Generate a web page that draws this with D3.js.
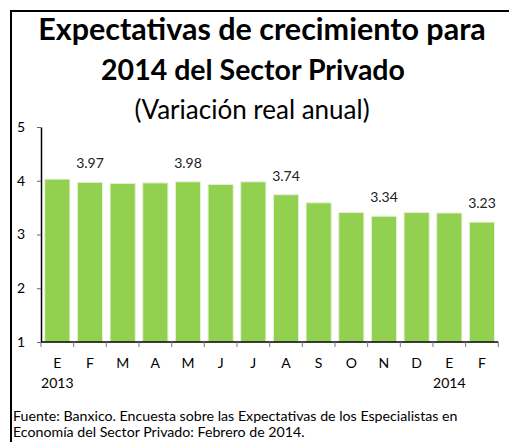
<!DOCTYPE html>
<html><head>
<meta charset="utf-8">
<title>Expectativas de crecimiento 2014</title>
<script src="https://d3js.org/d3.v7.min.js"></script>
<style>
  body { margin: 0; background: #fff; }
  svg text { font-family: Lato, "Open Sans", sans-serif; fill: #000; }
  .title { font-weight: bold; }
  .subtitle { font-size: 26px; }
  .axis text { font-size: 14px; }
  .label { font-size: 14px; fill: #222; }
  .note { font-size: 14.2px; }
</style>
</head>
<body>
<svg id="chart" width="509" height="442"></svg>
<script>
  // data
  let months = ["E", "F", "M", "A", "M", "J", "J", "A", "S", "O", "N", "D", "E", "F"];
  let years = ["2013", "", "", "", "", "", "", "", "", "", "", "", "2014", ""];
  let values = [4.03, 3.97, 3.95, 3.96, 3.98, 3.93, 3.98, 3.74, 3.59, 3.41, 3.34, 3.41, 3.40, 3.23];
  let labelled = [1, 4, 7, 10, 13];   // bars that carry their value
  let yTicks = [1, 2, 3, 4, 5];

  let svg = d3.select("svg#chart");

  // frame (open on right / bottom, cut off in the original)
  svg.append("path")
    .attr("d", "M11,442 L11,11 L509,11")
    .attr("fill", "none")
    .attr("stroke", "#000")
    .attr("stroke-width", 2);

  // titles
  svg.append("text").attr("class", "title").attr("x", 262).attr("y", 40)
    .attr("text-anchor", "middle").style("font-size", "30.5px").text("Expectativas de crecimiento para");
  svg.append("text").attr("class", "title").attr("x", 253).attr("y", 80)
    .attr("text-anchor", "middle").style("font-size", "28.5px").text("2014 del Sector Privado");
  svg.append("text").attr("class", "subtitle").attr("x", 252).attr("y", 119)
    .attr("text-anchor", "middle").text("(Variación real anual)");

  // scales
  let x = d3.scaleBand().domain(d3.range(months.length)).range([41, 498.3])
    .paddingInner(0.23).paddingOuter(0.115);
  let y = d3.scaleLinear().domain([1, 5]).range([342, 127]);

  // bars
  svg.append("g").selectAll("rect").data(values).enter().append("rect")
    .attr("x", (d, i) => x(i))
    .attr("width", x.bandwidth())
    .attr("y", d => y(d))
    .attr("height", d => y(1) - y(d))
    .attr("fill", "#92d050")
    .attr("stroke", "#e6f0d6")
    .attr("stroke-width", 1);

  // value labels
  svg.append("g").selectAll("text").data(labelled).enter().append("text")
    .attr("class", "label")
    .attr("x", i => x(i) + x.bandwidth() / 2)
    .attr("y", i => y(values[i]) - 14)
    .attr("text-anchor", "middle")
    .text(i => values[i].toFixed(2));

  // y axis
  let yAxis = d3.axisLeft(y).tickValues(yTicks).tickFormat(d3.format("d"))
    .tickSize(4).tickSizeOuter(0).tickPadding(12);
  let yG = svg.append("g").attr("class", "axis").attr("transform", "translate(41,0)").call(yAxis);
  yG.select(".domain").attr("stroke", "#000").attr("stroke-width", 1.5);
  yG.selectAll(".tick line").attr("stroke", "#666");
  yG.selectAll(".tick text").attr("fill", "#000");

  // x axis: ticks at category boundaries
  let edges = d3.range(months.length + 1).map(i => 41 + i * x.step());
  let xG = svg.append("g").attr("class", "axis");
  xG.append("line").attr("x1", 41).attr("x2", 498.3).attr("y1", 342).attr("y2", 342)
    .attr("stroke", "#000").attr("stroke-width", 1.5);
  xG.selectAll("line.tk").data(edges).enter().append("line").attr("class", "tk")
    .attr("x1", d => d).attr("x2", d => d).attr("y1", 342).attr("y2", 347)
    .attr("stroke", "#777");
  xG.selectAll("text.m").data(months).enter().append("text").attr("class", "m")
    .attr("x", (d, i) => x(i) + x.bandwidth() / 2).attr("y", 368)
    .attr("text-anchor", "middle").text(d => d);
  xG.selectAll("text.yr").data(years).enter().append("text").attr("class", "yr")
    .attr("x", (d, i) => x(i) + x.bandwidth() / 2).attr("y", 388)
    .attr("text-anchor", "middle").text(d => d);

  // source note
  svg.append("text").attr("class", "note").attr("x", 13).attr("y", 421)
    .text("Fuente: Banxico. Encuesta sobre las Expectativas de los Especialistas en");
  svg.append("text").attr("class", "note").attr("x", 13).attr("y", 437)
    .text("Economía del Sector Privado: Febrero de 2014.");
</script>
</body>
</html>
